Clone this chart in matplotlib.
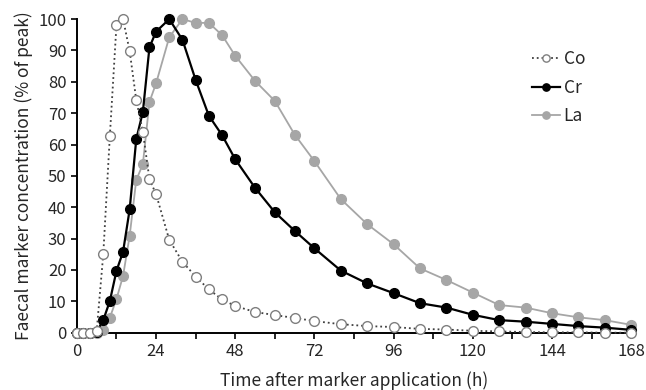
"""Faecal marker excretion curves for Co, Cr and La."""

import matplotlib
matplotlib.use("Agg")
import matplotlib.pyplot as plt
from matplotlib.ticker import MultipleLocator

plt.rcParams["font.family"] = ["Noto Sans CJK SC", "DejaVu Sans"]

# sampling times (h)
hours = [0, 2, 4, 6, 8, 10, 12, 14, 16, 18, 20, 22, 24,
         28, 32, 36, 40, 44, 48, 54, 60, 66, 72,
         80, 88, 96, 104, 112, 120, 128, 136, 144, 152, 160, 168]

# % of peak
co = [0, 0, 0, 0.5, 25.0, 62.8, 98.1, 100, 89.8, 74.2, 64.1, 48.9, 44.2,
      29.6, 22.6, 17.9, 13.8, 10.6, 8.5, 6.6, 5.6, 4.7, 3.7,
      2.7, 2.1, 1.8, 1.2, 1.0, 0.6, 0.4, 0.2, 0.1, 0.1, 0.0, 0.0]
cr = [0, 0, 0, 0.3, 4.0, 10.1, 19.7, 25.8, 39.3, 61.7, 70.4, 91.0, 96.0,
      100, 93.4, 80.6, 69.2, 63.0, 55.3, 46.2, 38.4, 32.5, 26.9,
      19.8, 15.7, 12.6, 9.4, 8.0, 5.7, 4.0, 3.5, 2.8, 2.1, 1.6, 0.9]
la = [0, 0, 0, 0, 0.8, 4.8, 10.7, 18.1, 30.9, 48.7, 53.7, 73.6, 79.5,
      94.2, 100, 98.8, 98.8, 94.9, 88.3, 80.3, 73.9, 63.2, 54.7,
      42.6, 34.6, 28.2, 20.5, 16.8, 12.8, 8.8, 8.0, 6.2, 4.9, 4.0, 2.5]

text_color = "#262626"

fig = plt.figure(figsize=(6.46, 3.9), dpi=100)
ax = fig.add_axes([0.119, 0.147, 0.858, 0.804])

ax.plot(hours, la, "-o", color="#a6a6a6", lw=1.3, ms=7,
        mec="#a6a6a6", mfc="#a6a6a6", label="La", clip_on=False, zorder=3)
ax.plot(hours, cr, "-o", color="black", lw=1.6, ms=7,
        mec="black", mfc="black", label="Cr", clip_on=False, zorder=4)
ax.plot(hours, co, ":o", color="#404040", lw=1.3, ms=7,
        mec="#7f7f7f", mfc="white", mew=1.0, label="Co", clip_on=False, zorder=5)

ax.set_xlim(0, 168)
ax.set_ylim(0, 100)
ax.xaxis.set_major_locator(MultipleLocator(24))
ax.xaxis.set_minor_locator(MultipleLocator(12))
ax.yaxis.set_major_locator(MultipleLocator(10))
ax.tick_params(axis="both", which="both", direction="out", width=1.2,
               labelsize=12, colors="black", labelcolor=text_color)
ax.tick_params(axis="both", which="major", length=4)
ax.tick_params(axis="x", which="minor", length=4)

for side in ("top", "right"):
    ax.spines[side].set_visible(False)
for side in ("left", "bottom"):
    ax.spines[side].set_linewidth(1.4)

ax.set_xlabel("Time after marker application (h)", fontsize=12.5,
              labelpad=8, color=text_color)
ax.set_ylabel("Faecal marker concentration (% of peak)", fontsize=12.5,
              labelpad=4, color=text_color)

handles, labels = ax.get_legend_handles_labels()
leg = ax.legend(handles[::-1], labels[::-1], loc="upper right",
                bbox_to_anchor=(0.945, 0.95), frameon=False, fontsize=12.5,
                handlelength=1.6, handletextpad=0.2, labelspacing=0.6,
                markerscale=0.75)
for t in leg.get_texts():
    t.set_color(text_color)

fig.savefig("out.png", dpi=100)
